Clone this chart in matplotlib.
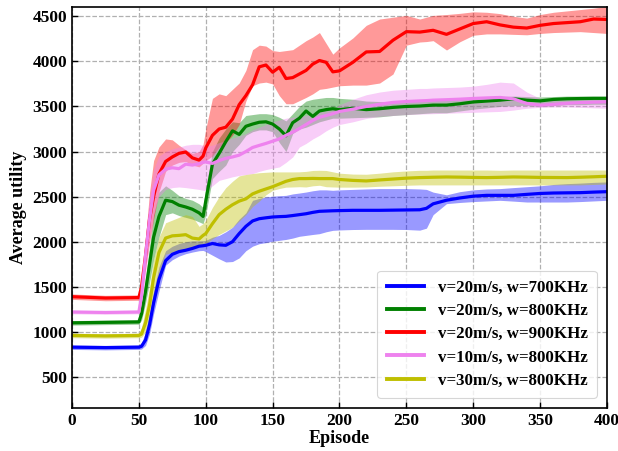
import matplotlib
matplotlib.use("Agg")
import matplotlib.pyplot as plt
import numpy as np

plt.rcParams['font.family'] = ['Liberation Serif', 'DejaVu Serif']
plt.rcParams['font.weight'] = 'bold'

episodes = [0, 25, 50, 52, 55, 58, 61, 65, 70, 75, 80, 85, 90, 95, 98, 100,
            105, 110, 115, 120, 125, 130, 135, 140, 145, 150, 155, 160, 165, 170,
            175, 180, 185, 190, 195, 200, 210, 220, 230, 240, 250, 260, 265, 270,
            280, 290, 300, 310, 320, 330, 340, 350, 360, 370, 380, 390, 400]

labels = ["v=20m/s, w=700KHz", "v=20m/s, w=800KHz", "v=20m/s, w=900KHz",
          "v=10m/s, w=800KHz", "v=30m/s, w=800KHz"]

# v=20m/s, w=700KHz
blue_mean = [830, 825, 830, 840, 910, 1080, 1320, 1580, 1790, 1860, 1890, 1905, 1925, 1950, 1955, 1960,
             1980, 1965, 1960, 2000, 2090, 2170, 2230, 2255, 2265, 2274, 2278, 2281, 2290, 2300,
             2310, 2325, 2337, 2340, 2343, 2345, 2348, 2348, 2348, 2350, 2352, 2354, 2370, 2420,
             2460, 2485, 2505, 2514, 2514, 2514, 2525, 2535, 2540, 2542, 2544, 2550, 2555]
blue_hi = [855, 850, 855, 880, 1000, 1200, 1450, 1720, 1900, 1950, 1980, 2000, 2010, 2010, 2012, 2015,
           2050, 2070, 2110, 2160, 2250, 2320, 2459, 2480, 2496, 2505, 2510, 2514, 2530, 2540,
           2551, 2565, 2575, 2575, 2570, 2575, 2580, 2585, 2589, 2589, 2589, 2585, 2580, 2550,
           2520, 2555, 2575, 2585, 2589, 2600, 2610, 2620, 2635, 2644, 2650, 2658, 2663]
blue_lo = [805, 800, 805, 810, 850, 980, 1200, 1450, 1740, 1800, 1840, 1867, 1885, 1900, 1903, 1890,
           1850, 1810, 1775, 1780, 1820, 1900, 1950, 1978, 1990, 2005, 2015, 2025, 2040, 2060,
           2070, 2080, 2089, 2110, 2126, 2130, 2135, 2137, 2137, 2137, 2135, 2128, 2150, 2300,
           2422, 2435, 2445, 2452, 2459, 2450, 2440, 2440, 2440, 2440, 2445, 2452, 2459]

# v=20m/s, w=800KHz
green_mean = [1100, 1105, 1110, 1200, 1450, 1750, 2050, 2280, 2460, 2445, 2405, 2385, 2360, 2320, 2280, 2450,
              2860, 2980, 3110, 3230, 3190, 3280, 3305, 3325, 3330, 3305, 3250, 3175, 3320, 3370,
              3450, 3390, 3450, 3465, 3475, 3465, 3480, 3465, 3475, 3490, 3500, 3505, 3510, 3515,
              3515, 3530, 3550, 3560, 3570, 3585, 3570, 3562, 3578, 3585, 3588, 3590, 3590]
green_hi = [1125, 1130, 1135, 1280, 1600, 1950, 2300, 2550, 2620, 2570, 2510, 2480, 2460, 2420, 2380, 2600,
            3000, 3150, 3250, 3330, 3320, 3400, 3410, 3420, 3420, 3410, 3380, 3340, 3420, 3500,
            3560, 3580, 3590, 3600, 3600, 3590, 3580, 3560, 3555, 3555, 3560, 3560, 3565, 3565,
            3570, 3580, 3590, 3600, 3610, 3615, 3610, 3605, 3610, 3615, 3615, 3615, 3615]
green_lo = [1075, 1080, 1085, 1130, 1320, 1550, 1800, 2050, 2300, 2320, 2290, 2270, 2250, 2220, 2200, 2300,
            2700, 2780, 2850, 3000, 3080, 3180, 3220, 3240, 3240, 3220, 3100, 3000, 3200, 3250,
            3270, 3300, 3330, 3350, 3370, 3370, 3375, 3380, 3385, 3400, 3410, 3420, 3425, 3430,
            3430, 3450, 3470, 3485, 3500, 3510, 3510, 3500, 3510, 3520, 3520, 3525, 3525]

# v=20m/s, w=900KHz
red_mean = [1390, 1375, 1380, 1500, 1850, 2250, 2500, 2750, 2890, 2940, 2980, 2995, 2930, 2905, 2950, 3040,
            3180, 3250, 3270, 3360, 3520, 3620, 3740, 3940, 3960, 3880, 3935, 3810, 3820, 3860,
            3900, 3970, 4010, 3990, 3884, 3895, 3990, 4105, 4110, 4235, 4330, 4325, 4335, 4345,
            4300, 4360, 4420, 4440, 4405, 4380, 4370, 4400, 4420, 4430, 4440, 4470, 4465]
red_hi = [1420, 1405, 1410, 1600, 2050, 2550, 2900, 3050, 3140, 3130, 3070, 3020, 2980, 3000, 3080, 3250,
          3590, 3640, 3620, 3690, 3760, 3900, 4130, 4180, 4170, 4120, 4110, 4120, 4130, 4180,
          4230, 4270, 4320, 4200, 4080, 4150, 4260, 4400, 4470, 4490, 4510, 4470, 4490, 4510,
          4520, 4533, 4550, 4545, 4530, 4500, 4480, 4520, 4545, 4560, 4575, 4590, 4610]
red_lo = [1360, 1345, 1350, 1420, 1700, 2000, 2250, 2550, 2780, 2850, 2880, 2890, 2850, 2830, 2870, 2900,
          2950, 3050, 3100, 3180, 3300, 3560, 3730, 3760, 3770, 3750, 3620, 3530, 3530, 3565,
          3600, 3640, 3690, 3700, 3715, 3730, 3737, 3737, 3760, 3860, 4180, 4215, 4220, 4230,
          4126, 4218, 4290, 4305, 4305, 4300, 4295, 4310, 4320, 4325, 4330, 4320, 4310]

# v=10m/s, w=800KHz
pink_mean = [1220, 1215, 1220, 1400, 1850, 2250, 2570, 2740, 2805, 2820, 2810, 2860, 2850, 2865, 2880, 2885,
             2868, 2900, 2925, 2940, 2960, 3000, 3045, 3068, 3090, 3115, 3140, 3180, 3215, 3255,
             3300, 3345, 3380, 3400, 3420, 3445, 3470, 3500, 3525, 3545, 3555, 3562, 3565, 3570,
             3575, 3581, 3589, 3595, 3600, 3585, 3533, 3514, 3524, 3535, 3543, 3548, 3552]
pink_hi = [1240, 1235, 1240, 1500, 2050, 2500, 2800, 2950, 3000, 3030, 3050, 3070, 3080, 3080, 3070, 3060,
           3070, 3100, 3120, 3150, 3170, 3200, 3240, 3270, 3300, 3330, 3350, 3370, 3380, 3390,
           3400, 3420, 3440, 3450, 3470, 3520, 3580, 3630, 3660, 3680, 3690, 3700, 3700, 3705,
           3710, 3715, 3725, 3745, 3770, 3760, 3660, 3590, 3580, 3575, 3575, 3575, 3575]
pink_lo = [1200, 1195, 1200, 1300, 1650, 2000, 2300, 2500, 2580, 2600, 2607, 2600, 2590, 2580, 2570, 2570,
           2620, 2680, 2700, 2720, 2735, 2745, 2756, 2780, 2800, 2815, 2829, 2880, 2940, 3050,
           3090, 3140, 3180, 3230, 3270, 3300, 3330, 3367, 3390, 3400, 3410, 3415, 3418, 3420,
           3425, 3430, 3435, 3440, 3445, 3460, 3480, 3490, 3495, 3495, 3490, 3485, 3480]

# v=30m/s, w=800KHz
yellow_mean = [960, 955, 960, 975, 1100, 1300, 1600, 1880, 2040, 2065, 2070, 2078, 2040, 2030, 2070, 2090,
               2200, 2300, 2360, 2410, 2450, 2475, 2530, 2560, 2585, 2610, 2640, 2670, 2690, 2700,
               2700, 2702, 2700, 2700, 2700, 2690, 2680, 2674, 2685, 2695, 2705, 2711, 2713, 2715,
               2718, 2716, 2713, 2711, 2714, 2718, 2716, 2713, 2712, 2711, 2715, 2720, 2726]
yellow_hi = [985, 980, 985, 1050, 1250, 1500, 1800, 2050, 2210, 2240, 2270, 2300, 2280, 2170, 2200, 2237,
             2380, 2500, 2600, 2670, 2730, 2745, 2756, 2765, 2770, 2774, 2774, 2774, 2774, 2775,
             2780, 2790, 2792, 2790, 2775, 2760, 2750, 2748, 2760, 2775, 2785, 2792, 2792, 2795,
             2795, 2795, 2795, 2795, 2792, 2795, 2795, 2795, 2795, 2795, 2795, 2795, 2795]
yellow_lo = [935, 930, 935, 940, 1000, 1150, 1350, 1650, 1860, 1885, 1900, 1920, 1940, 1960, 1975, 1980,
             2030, 2080, 2120, 2160, 2230, 2300, 2390, 2450, 2520, 2570, 2590, 2605, 2607, 2610,
             2607, 2620, 2626, 2610, 2607, 2605, 2605, 2607, 2615, 2620, 2626, 2630, 2630, 2630,
             2630, 2630, 2630, 2630, 2630, 2630, 2630, 2630, 2630, 2630, 2630, 2635, 2640]

colors = ['#0000ff', '#008000', '#ff0000', '#ee82ee', '#bfbf00']
means = [blue_mean, green_mean, red_mean, pink_mean, yellow_mean]
his = [blue_hi, green_hi, red_hi, pink_hi, yellow_hi]
los = [blue_lo, green_lo, red_lo, pink_lo, yellow_lo]

fig = plt.figure(figsize=(6.18, 4.51), dpi=100)
ax = fig.add_axes([0.1165, 0.0953, 0.8657, 0.8885])

for m, lo, hi, c, lab in zip(means, los, his, colors, labels):
    ax.fill_between(episodes, lo, hi, color=c, alpha=0.4, linewidth=0)
    ax.plot(episodes, m, color=c, linewidth=2.3, label=lab)

ax.set_xlim(0, 400)
ax.set_ylim(155, 4600)
ax.set_xticks([0, 50, 100, 150, 200, 250, 300, 350, 400])
ax.set_yticks([500, 1000, 1500, 2000, 2500, 3000, 3500, 4000, 4500])
ax.tick_params(direction='in', length=4, width=1, labelsize=12.5)
for lbl in ax.get_xticklabels() + ax.get_yticklabels():
    lbl.set_fontweight('bold')
ax.grid(True, linestyle='--', color='#b0b0b0', linewidth=0.9)
ax.set_axisbelow(True)
for s in ax.spines.values():
    s.set_linewidth(1.2)

ax.set_xlabel('Episode', fontsize=13, fontweight='bold', labelpad=1)
ax.set_ylabel('Average utility', fontsize=13, fontweight='bold', labelpad=4)

leg = ax.legend(loc='lower right', prop={'weight': 'bold', 'size': 12.2},
                handlelength=2.2, borderpad=0.55, labelspacing=0.42, handletextpad=0.8,
                borderaxespad=0.6)
for h in leg.get_lines():
    h.set_linewidth(2.8)
leg.get_frame().set_linewidth(0.8)

fig.savefig('out.png', dpi=100)
